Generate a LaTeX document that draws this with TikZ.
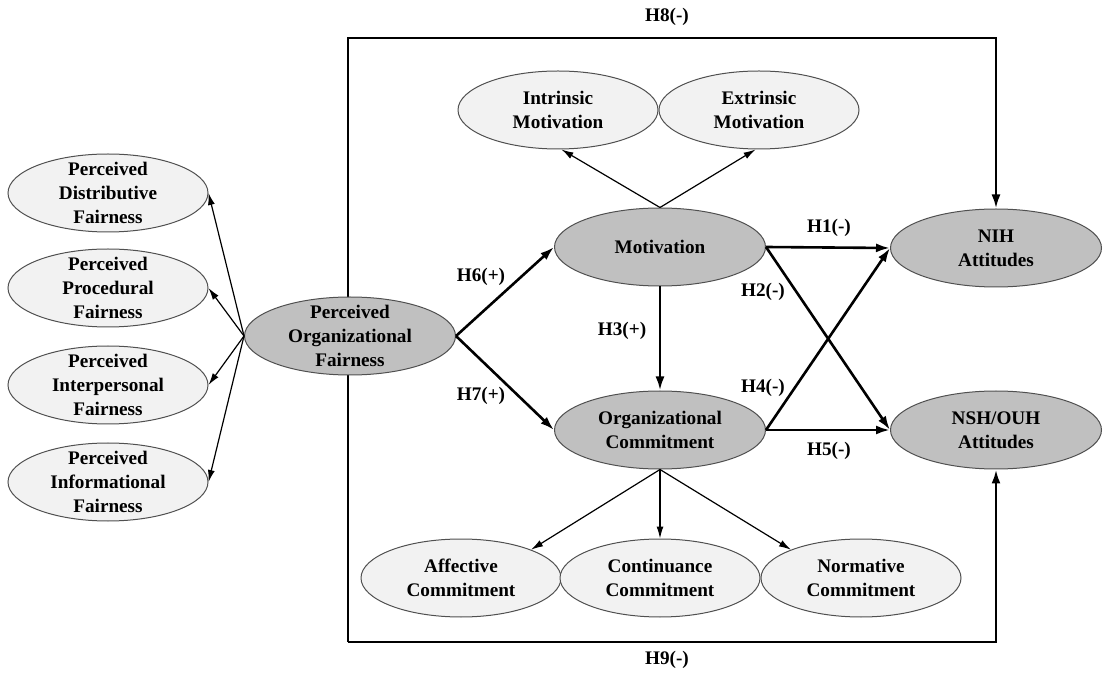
\documentclass[tikz,border=0pt]{standalone}
\usepackage{fontspec}
\setmainfont{Liberation Serif}
\usetikzlibrary{shapes.geometric,arrows.meta,backgrounds}
\definecolor{lightfill}{HTML}{F2F2F2}
\definecolor{darkfill}{HTML}{C0C0C0}
\definecolor{rim}{HTML}{505050}

\begin{document}
\begin{tikzpicture}[x=0.5pt, y=-0.5pt,
    every node/.style={font=\bfseries\fontsize{9.6}{12}\selectfont, align=center},
    construct/.style={ellipse, draw=rim, line width=0.5pt, inner sep=-3pt,
        minimum width=100pt, minimum height=39pt, fill=lightfill},
    latent/.style={construct, fill=darkfill, minimum width=105.5pt},
    facet/.style={-{Latex[length=6pt,width=3.5pt]}, line width=0.6pt},
    hyp/.style={-{Latex[length=7pt,width=4.5pt]}, line width=1.3pt}]
    \useasboundingbox (0,0) rectangle (1103,673);

    % fairness facets
    \node[construct] (pdf) at (108,193) {Perceived\\Distributive\\Fairness};
    \node[construct] (ppf) at (108,288) {Perceived\\Procedural\\Fairness};
    \node[construct] (pif) at (108,385) {Perceived\\Interpersonal\\Fairness};
    \node[construct] (pinf) at (108,482) {Perceived\\Informational\\Fairness};
    \node[latent] (pof) at (350,336) {Perceived\\Organizational\\Fairness};

    % motivation and commitment
    \node[construct] (intr) at (558,110) {Intrinsic\\Motivation};
    \node[construct] (extr) at (759,110) {Extrinsic\\Motivation};
    \node[latent] (mot) at (660,247) {Motivation};
    \node[latent] (oc) at (660,430) {Organizational\\Commitment};
    \node[construct] (aff) at (461,578) {Affective\\Commitment};
    \node[construct] (cont) at (660,578) {Continuance\\Commitment};
    \node[construct] (norm) at (861,578) {Normative\\Commitment};

    % outcomes
    \node[latent] (nih) at (996,248) {NIH\\Attitudes};
    \node[latent] (nsh) at (996,430) {NSH/OUH\\Attitudes};

    \foreach \f in {pdf,ppf,pif,pinf}
        \draw[facet] (pof.west) -- (\f.east);
    \draw[facet] (mot.north) -- (intr.-85);
    \draw[facet] (mot.north) -- (extr.-95);
    \draw[facet] (oc.south) -- (aff.22);
    \draw[facet] (oc.south) -- (cont.north);
    \draw[facet] (oc.south) -- (norm.158);

    \draw[hyp] (pof.east) -- (mot.west);
    \draw[hyp] (pof.east) -- (oc.west);
    \draw[hyp] (mot.south) -- (oc.north);
    \draw[hyp] (mot.east) -- (nih.west);
    \draw[hyp] (mot.east) -- (nsh.west);
    \draw[hyp] (oc.east) -- (nih.west);
    \draw[hyp] (oc.east) -- (nsh.west);

    % direct paths round the frame
    \coordinate (topleft) at (348,38);
    \coordinate (botleft) at (348,642);
    \begin{scope}[on background layer]
        \draw[hyp] (botleft) -- (topleft) -| (nih.north);
        \draw[hyp] (botleft) -| (nsh.south);
    \end{scope}

    \node (h1) at (829,228) {H1(-)};
    \node (h2) at (763,292) {H2(-)};
    \node (h3) at (622,331) {H3(+)};
    \node (h4) at (763,388) {H4(-)};
    \node (h5) at (829,451) {H5(-)};
    \node (h6) at (481,277) {H6(+)};
    \node (h7) at (481,396) {H7(+)};
    \node (h8) at (667,17) {H8(-)};
    \node (h9) at (667,660) {H9(-)};
\end{tikzpicture}
\end{document}
